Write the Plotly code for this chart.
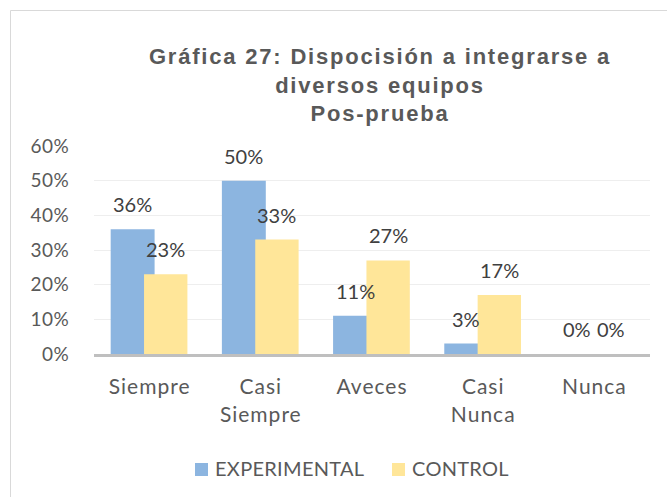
import plotly.graph_objects as go

categories = ["Siempre", "Casi Siempre", "Aveces", "Casi Nunca", "Nunca"]
tick_text = ["Siempre", "Casi<br>Siempre", "Aveces", "Casi<br>Nunca", "Nunca"]
experimental = [0.36, 0.50, 0.11, 0.03, 0.0]
control = [0.23, 0.33, 0.27, 0.17, 0.0]
y_ticks = [0, 0.1, 0.2, 0.3, 0.4, 0.5, 0.6]
y_tick_labels = ["0%", "10%", "20%", "30%", "40%", "50%", "60%"]
title_lines = ["Gráfica 27: Dispocisión a integrarse a", "diversos equipos", "Pos-prueba"]
series_names = ["EXPERIMENTAL", "CONTROL"]

BLUE = "#8CB5E0"
YELLOW = "#FFE699"
TICK_FONT = dict(family="Lato", size=21, color="#595959")

W, H = 667, 497
L, R, T, B = 94, 17, 146, 143
PW, PH = W - L - R, H - T - B


def px_x(x):
    return (x - L) / PW


def px_y(y):
    return (H - B - y) / PH


xs = list(range(len(categories)))
exp_off, exp_w = -0.35, 0.395
ctl_off, ctl_w = -0.05, 0.39

fig = go.Figure()
fig.add_trace(go.Bar(x=xs, y=experimental, name=series_names[0], marker=dict(color=BLUE, line=dict(width=0)),
                     offset=exp_off, width=exp_w, hoverinfo="y", showlegend=False))
fig.add_trace(go.Bar(x=xs, y=control, name=series_names[1], marker=dict(color=YELLOW, line=dict(width=0)),
                     offset=ctl_off, width=ctl_w, hoverinfo="y", showlegend=False))

annotations = []
for vals, off, w in ((experimental, exp_off, exp_w), (control, ctl_off, ctl_w)):
    for i, v in zip(xs, vals):
        annotations.append(dict(x=i + off + w / 2, y=v, xref="x", yref="y", text=f"{round(v*100)}%",
                                showarrow=False, yshift=25, yanchor="middle",
                                font=dict(family="Lato", size=20, color="#404040")))


def sp(s, n):
    return f'<span style="letter-spacing:{n}px">{s}</span>'


# manual legend
legend_items = [(series_names[0], BLUE, 195), (series_names[1], YELLOW, 392)]
shapes = []
for name, col, x0 in legend_items:
    shapes.append(dict(type="rect", xref="paper", yref="paper",
                       x0=px_x(x0), x1=px_x(x0 + 13), y0=px_y(476), y1=px_y(463),
                       line=dict(width=0), fillcolor=col))
    annotations.append(dict(x=px_x(x0 + 18), y=px_y(468), xref="paper", yref="paper",
                            xanchor="left", yanchor="middle", showarrow=False,
                            text=sp(name, 0.3), font=dict(family="Lato", size=20, color="#595959")))

shapes.append(dict(type="rect", xref="paper", yref="paper",
                   x0=px_x(10.5), x1=px_x(672), y0=px_y(502), y1=px_y(10.5),
                   line=dict(color="#D9D9D9", width=1), fillcolor="rgba(0,0,0,0)", layer="below"))

title_text = "<br>".join(sp(t, 1.8) for t in title_lines)

fig.update_layout(
    width=W, height=H,
    margin=dict(l=L, r=R, t=T, b=B),
    paper_bgcolor="white", plot_bgcolor="white",
    barmode="overlay",
    showlegend=False,
    title=dict(text=title_text, x=380/W, xanchor="center", xref="container",
               y=1 - 64/H, yanchor="top", yref="container",
               font=dict(family="Liberation Sans", size=22, color="#595959", weight="bold")),
    xaxis=dict(range=[-0.5, 4.5], tickvals=xs, ticktext=[sp(t, 1) for t in tick_text],
               tickfont=TICK_FONT, showgrid=False, zeroline=False,
               showline=True, linecolor="#BFBFBF", linewidth=3,
               ticks="outside", ticklen=12, tickcolor="rgba(0,0,0,0)", fixedrange=True),
    yaxis=dict(range=[0, 0.6], tickvals=y_ticks, ticktext=[sp(t, 0.5) for t in y_tick_labels],
               tickfont=dict(family="Lato", size=19, color="#595959"),
               showgrid=True, gridcolor="#EEEEEE", gridwidth=1,
               zeroline=False, showline=False,
               ticks="outside", ticklen=20, tickcolor="rgba(0,0,0,0)", fixedrange=True),
    annotations=annotations,
    shapes=shapes,
)

fig.write_html("out.html", config={"displayModeBar": False},
               post_script="document.body.style.margin='0';")
